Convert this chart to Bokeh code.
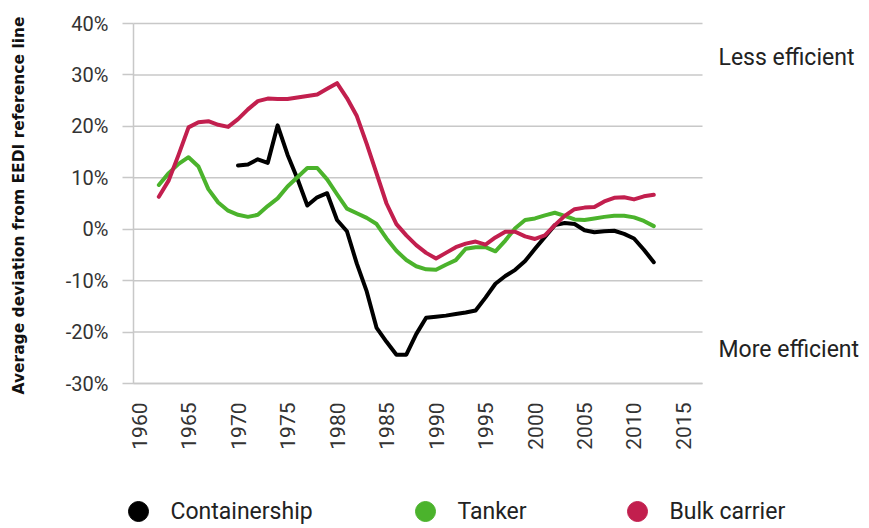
import math
from bokeh.plotting import figure
from bokeh.models import Range1d, FixedTicker, PrintfTickFormatter, LinearAxis, Label
from bokeh.embed import file_html
from bokeh.resources import INLINE

# ---------------- data ----------------
container_years = list(range(1970, 2013))
containership = [12.4, 12.6, 13.6, 12.9, 20.2, 14.5, 9.8, 4.6, 6.2, 7.0,
                 1.8, -0.4, -6.7, -12.1, -19.2, -21.9, -24.4, -24.4, -20.4, -17.2,
                 -17.0, -16.8, -16.5, -16.2, -15.8, -13.3, -10.6, -9.1, -7.9, -6.2,
                 -3.8, -1.5, 0.8, 1.2, 1.0, -0.2, -0.6, -0.4, -0.3, -0.9,
                 -1.8, -4.0, -6.4]

tanker_years = list(range(1962, 2013))
tanker = [8.6, 10.9, 12.7, 14.0, 12.2, 7.8, 5.2, 3.6, 2.8, 2.4,
          2.8, 4.5, 6.0, 8.3, 10.1, 11.9, 11.9, 9.7, 6.8, 4.0,
          3.1, 2.2, 1.0, -1.8, -4.2, -6.0, -7.2, -7.8, -7.9, -6.9,
          -6.0, -3.8, -3.5, -3.5, -4.3, -2.2, 0.2, 1.8, 2.1, 2.7,
          3.2, 2.6, 1.9, 1.8, 2.1, 2.4, 2.6, 2.6, 2.3, 1.6,
          0.6]

bulk_years = list(range(1962, 2013))
bulk_carrier = [6.3, 9.5, 14.5, 19.8, 20.8, 21.0, 20.3, 19.9, 21.4, 23.3,
                24.9, 25.4, 25.3, 25.3, 25.6, 25.9, 26.2, 27.3, 28.4, 25.5,
                22.0, 16.6, 10.8, 5.0, 1.0, -1.2, -3.1, -4.6, -5.7, -4.6,
                -3.5, -2.8, -2.4, -3.0, -1.6, -0.5, -0.5, -1.4, -1.9, -1.2,
                0.8, 2.6, 3.9, 4.2, 4.3, 5.4, 6.1, 6.2, 5.8, 6.4,
                6.7]

series_names = ["Containership", "Tanker", "Bulk carrier"]
series_colors = ["#000000", "#4bb32c", "#c21f4e"]

x_ticks = [1960, 1965, 1970, 1975, 1980, 1985, 1990, 1995, 2000, 2005, 2010, 2015]
y_ticks = [-30, -20, -10, 0, 10, 20, 30, 40]

y_title = "Average deviation from EEDI reference line"
note_texts = ["Less efficient", "More efficient"]

# ---------------- layout constants (pixels) ----------------
W, H = 869, 528
AREA_L, AREA_R, AREA_T, AREA_B = 133, 702, 23, 383      # plotting area on the canvas
X_START, X_END = 1959.44, 2016.92                         # years at area edges
Y_START, Y_END = y_ticks[0], y_ticks[-1]
KX = (X_END - X_START) / (AREA_R - AREA_L)                # years per pixel
KY = (Y_END - Y_START) / (AREA_B - AREA_T)                # percent per pixel


def px_to_x(px):
    return X_START + (px - AREA_L) * KX


def py_to_y(py):
    return Y_START - (py - AREA_B) * KY


FONT = "Roboto"
GRID = "#c8c8c8"
TXT = "#333333"

# ---------------- chart (frame = full canvas) ----------------
p = figure(width=W, height=H,
           x_range=Range1d(px_to_x(0), px_to_x(W)), y_range=Range1d(py_to_y(H), py_to_y(0)),
           output_backend="svg", toolbar_location=None,
           x_axis_location=None, y_axis_location=None, min_border=0)
p.outline_line_color = None
p.grid.visible = False

# horizontal gridlines across the plotting area
p.segment(x0=[X_START] * len(y_ticks), x1=[X_END] * len(y_ticks), y0=y_ticks, y1=y_ticks,
          line_color=GRID, line_width=1.5)

# x axis pinned at the bottom of the plotting area
xaxis = LinearAxis(fixed_location=Y_START, bounds=(X_START, X_END),
                   ticker=FixedTicker(ticks=x_ticks), formatter=PrintfTickFormatter(format="%d"),
                   major_label_orientation=math.pi / 2, major_tick_in=0, major_tick_out=0,
                   minor_tick_line_color=None, axis_line_color=GRID, axis_line_width=1.5,
                   major_label_standoff=19, major_label_text_font=FONT,
                   major_label_text_font_size="21px", major_label_text_color=TXT)
p.add_layout(xaxis, "below")

# y axis pinned at the left of the plotting area
yaxis = LinearAxis(fixed_location=X_START, bounds=(Y_START, Y_END),
                   ticker=FixedTicker(ticks=y_ticks), formatter=PrintfTickFormatter(format="%d%%"),
                   major_tick_in=0, major_tick_out=11, major_tick_line_color=GRID,
                   major_tick_line_width=1.5, minor_tick_line_color=None,
                   axis_line_color=GRID, axis_line_width=1.5, major_label_standoff=14,
                   major_label_text_font=FONT, major_label_text_font_size="20px",
                   major_label_text_color=TXT)
p.add_layout(yaxis, "left")

for yrs, vals, col in [(container_years, containership, series_colors[0]),
                       (tanker_years, tanker, series_colors[1]),
                       (bulk_years, bulk_carrier, series_colors[2])]:
    p.line(yrs, vals, line_color=col, line_width=4, line_join="round", line_cap="round")

# y axis title
p.add_layout(Label(x=18, y=H - 205, x_units="screen", y_units="screen", text=y_title,
                   angle=math.pi / 2, text_font="DejaVu Sans", text_font_style="bold",
                   text_font_size="15.5px", text_color="#111111",
                   text_align="center", text_baseline="middle"))

# side notes
for txt, py in zip(note_texts, [57, 349]):
    p.add_layout(Label(x=718, y=H - py, x_units="screen", y_units="screen", text=txt,
                       text_font=FONT, text_font_size="23px", text_color="#222222",
                       text_align="left", text_baseline="middle"))

# legend row
dot_px = [138, 425, 637]
leg_py = 511
p.scatter([px_to_x(v) for v in dot_px], [py_to_y(leg_py)] * 3, size=20, marker="circle",
          fill_color=series_colors, line_color=series_colors)
for px, name in zip(dot_px, series_names):
    p.add_layout(Label(x=px + 32, y=H - leg_py, x_units="screen", y_units="screen", text=name,
                       text_font=FONT, text_font_size="23px", text_color="#222222",
                       text_align="left", text_baseline="middle"))

open("out.html", "w").write(file_html(p, INLINE))
